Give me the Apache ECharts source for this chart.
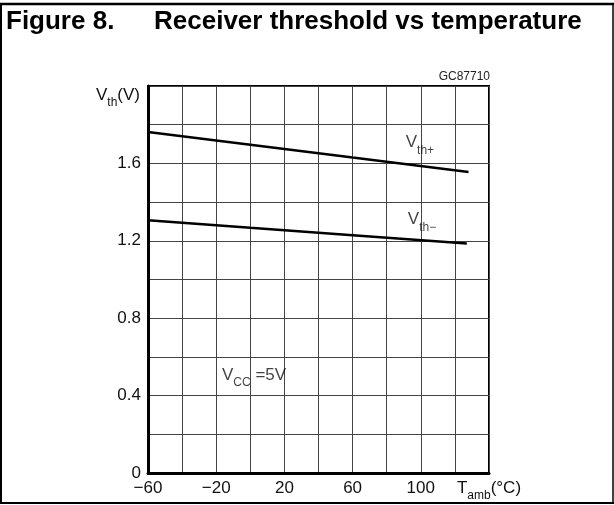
<!DOCTYPE html>
<html>
<head>
<meta charset="utf-8">
<script src="https://cdn.jsdelivr.net/npm/echarts@6/dist/echarts.min.js"></script>
<style>
html,body{margin:0;padding:0;background:#fff;}
#chart{width:614px;height:505px;}
</style>
</head>
<body>
<div id="chart"></div>
<script>
// ---- data ----
var tempVthPlus  = [-60, 0, 60, 128];
var vthPlus      = [1.762, 1.696, 1.630, 1.556];
var tempVthMinus = [-60, 0, 60, 127];
var vthMinus     = [1.306, 1.267, 1.229, 1.186];
var xTickValues  = [-60, -20, 20, 60, 100];
var xTickLabels  = ['\u221260', '\u221220', '20', '60', '100'];
var yTickValues  = [0, 0.4, 0.8, 1.2, 1.6];
var yTickLabels  = ['0', '0.4', '0.8', '1.2', '1.6'];
var annotations  = [
  {name: 'Vth+', x: 99.5, y: 1.694, text: '{v|V}{s|th+}'},
  {name: 'Vth-', x: 100.7, y: 1.296, text: '{v|V}{s|th\u2212}'},
  {name: 'Vcc',  x: 2.2,  y: 0.49,  text: '{v|V}{s|CC}{v| =5V}'}
];

var FONT = '"Liberation Sans", Arial, Helvetica, sans-serif';
var subRich = {
  v: {fontFamily: FONT, fontSize: 17, color: '#111', verticalAlign: 'top', lineHeight: 22},
  s: {fontFamily: FONT, fontSize: 12, color: '#111', verticalAlign: 'bottom', lineHeight: 22, padding: [6, 0, 0, 0]}
};

function xFmt(v) {
  if (v === 140) return '{v|T}{s|amb}{v|(\u00b0C)}';
  var i = xTickValues.indexOf(v);
  return i >= 0 ? xTickLabels[i] : '';
}
function yFmt(v) {
  var r = Math.round(v * 10) / 10;
  var i = yTickValues.indexOf(r);
  return i >= 0 ? yTickLabels[i] : '';
}

var chart = echarts.init(document.getElementById('chart'), null, {renderer: 'canvas'});
chart.setOption({
  animation: false,
  backgroundColor: '#fff',
  title: [
    {text: 'Figure 8.', left: 1, top: 4, textStyle: {fontFamily: FONT, fontWeight: 'bold', fontSize: 26, color: '#000'}},
    {text: 'Receiver threshold vs temperature', left: 149, top: 4, textStyle: {fontFamily: FONT, fontWeight: 'bold', fontSize: 26, color: '#000'}}
  ],
  graphic: [
    {type: 'line', shape: {x1: 0, y1: 4, x2: 614, y2: 4}, style: {stroke: '#000', lineWidth: 2.5}, silent: true},
    {type: 'line', shape: {x1: 1, y1: 4, x2: 1, y2: 504}, style: {stroke: '#000', lineWidth: 2}, silent: true},
    {type: 'line', shape: {x1: 0, y1: 503, x2: 614, y2: 503}, style: {stroke: '#000', lineWidth: 2}, silent: true},
    {type: 'line', shape: {x1: 613, y1: 4, x2: 613, y2: 504}, style: {stroke: '#000', lineWidth: 1.5}, silent: true},
    {type: 'text', x: 490, y: 77, style: {text: 'GC87710', fontFamily: FONT, fontSize: 12, fill: '#222', align: 'right', verticalAlign: 'middle'}, silent: true}
  ],
  grid: {left: 148, right: 125, top: 86, bottom: 32, show: true, borderColor: '#000', borderWidth: 2, backgroundColor: 'transparent'},
  xAxis: {
    type: 'value', min: -60, max: 140, interval: 20,
    axisLine: {show: true, onZero: false, lineStyle: {color: '#000', width: 3}},
    axisTick: {show: false},
    splitLine: {show: true, lineStyle: {color: '#444', width: 1}},
    axisLabel: {formatter: xFmt, margin: 7, fontFamily: FONT, fontSize: 17, color: '#111', showMaxLabel: true, showMinLabel: true, rich: subRich}
  },
  yAxis: {
    type: 'value', min: 0, max: 2, interval: 0.2,
    name: '{v|V}{s|th}{v|(V)}', nameLocation: 'end', nameGap: -23, nameMoveOverlap: false,
    nameTextStyle: {align: 'right', verticalAlign: 'bottom', padding: [0, 8, 0, 0], rich: subRich},
    axisLine: {show: true, onZero: false, lineStyle: {color: '#000', width: 3}},
    axisTick: {show: false},
    splitLine: {show: true, lineStyle: {color: '#444', width: 1}},
    axisLabel: {formatter: yFmt, margin: 7, fontFamily: FONT, fontSize: 17, color: '#111', showMaxLabel: true, showMinLabel: true}
  },
  series: [
    {name: 'Vth+', type: 'line', showSymbol: false, symbol: 'none', lineStyle: {color: '#000', width: 2.5},
      data: tempVthPlus.map(function (t, i) { return [t, vthPlus[i]]; })},
    {name: 'Vth-', type: 'line', showSymbol: false, symbol: 'none', lineStyle: {color: '#000', width: 2.5},
      data: tempVthMinus.map(function (t, i) { return [t, vthMinus[i]]; })},
    {name: 'labels', type: 'scatter', symbolSize: 0, silent: true,
      data: annotations.map(function (a) { return {value: [a.x, a.y], name: a.text}; }),
      label: {show: true, position: 'inside', formatter: function (p) { return p.name; }, rich: subRich}}
  ]
});
</script>
</body>
</html>
